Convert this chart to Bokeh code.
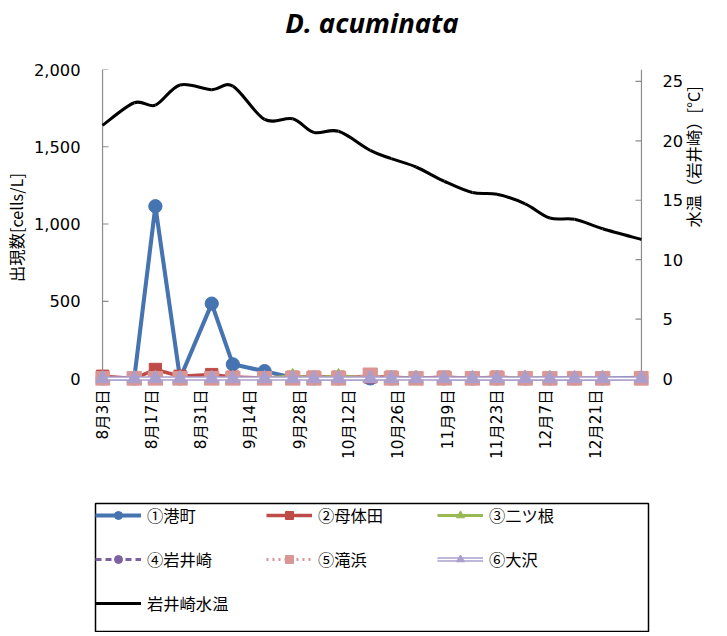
import math
import numpy as np
import pandas as pd
from bokeh.plotting import figure
from bokeh.layouts import column
from bokeh.models import (Range1d, LinearAxis, FixedTicker, NumeralTickFormatter,
                          Legend, LegendItem)
from bokeh.embed import file_html
from bokeh.resources import INLINE

# ---------------- data ----------------
title_text = "D. acuminata"
sample_dates = ["2015-08-03", "2015-08-12", "2015-08-18", "2015-08-25", "2015-09-03",
                "2015-09-09", "2015-09-18", "2015-09-26", "2015-10-02", "2015-10-09",
                "2015-10-18", "2015-10-24", "2015-10-31", "2015-11-08", "2015-11-16",
                "2015-11-23", "2015-12-01", "2015-12-08", "2015-12-15", "2015-12-23",
                "2016-01-03"]
station_names = ["①港町", "②母体田", "③二ツ根", "④岩井崎", "⑤滝浜", "⑥大沢"]
minatomachi = [0, 0, 1115, 0, 485, 92, 48, 5, 0, 0, 0, 0, 5, 0, 0, 0, 0, 0, 0, 0, 5]
motaita = [15, 0, 59, 15, 26, 9, 4, 9, 9, 9, 10, 9, 0, 9, 0, 9, 0, 0, 0, 0, 0]
futatsune = [0, 0, 0, 0, 0, 0, 0, 20, 0, 20, 0, 0, 0, 0, 0, 0, 10, 0, 0, 0, 0]
iwaisaki = [0, 0, 0, 0, 0, 0, 0, 0, 0, 0, 0, 0, 0, 0, 5, 0, 0, 0, 0, 0, 0]
takihama = [0, 0, 0, 0, 0, 0, 0, 0, 0, 0, 22, 0, 0, 0, 0, 0, 0, 0, 0, 0, 0]
osawa = [0, 0, 0, 0, 0, 0, 0, 0, 0, 0, 0, 0, 0, 0, 0, 0, 0, 0, 0, 0, 0]
temp_name = "岩井崎水温"
water_temp = [21.3, 23.2, 23.0, 24.7, 24.3, 24.6, 21.8, 21.85, 20.7, 20.8, 19.2,
              18.5, 17.8, 16.6, 15.65, 15.5, 14.7, 13.5, 13.4, 12.6, 11.7]
tick_dates = ["2015-08-03", "2015-08-17", "2015-08-31", "2015-09-14", "2015-09-28",
              "2015-10-12", "2015-10-26", "2015-11-09", "2015-11-23", "2015-12-07",
              "2015-12-21"]
tick_labels = ["8月3日", "8月17日", "8月31日", "9月14日", "9月28日", "10月12日",
               "10月26日", "11月9日", "11月23日", "12月7日", "12月21日"]
left_ticks = [0, 500, 1000, 1500, 2000]
right_ticks = [0, 5, 10, 15, 20, 25]
right_max = 26
left_label = "出現数[cells/L]"
right_label = "水温（岩井崎）[°C]"

# ---------------- derived ----------------
d0 = pd.Timestamp(sample_dates[0])
days = [(pd.Timestamp(d) - d0).days for d in sample_dates]
tick_days = [(pd.Timestamp(d) - d0).days for d in tick_dates]

S = 1.02  # size factor
def px(v):
    return "%.1fpx" % (v * S)

JP = "Noto Sans CJK JP"
NUM = "DejaVu Sans"
MIX = "'DejaVu Sans', 'Noto Sans CJK JP'"
AX = "#8c8c8c"
BLUE = "#4674b0"
RED = "#be4b48"
GREEN = "#98b954"
PURPLE = "#7d60a0"
PINK = "#d99694"
LAV = "#aa9fcc"

W = 724
H_MAIN = 502
H_LEG = 130
MB_L, MB_R, MB_T = 88, 69, 66
MB_B = H_MAIN - 385
XPAD = 2
YPAD = 45
x_start, x_end = days[0] - XPAD, days[-1] + XPAD
y_start, y_end = left_ticks[0] - YPAD, left_ticks[-1]
r_start = y_start / left_ticks[-1] * right_max

p = figure(width=W, height=H_MAIN, x_range=Range1d(x_start, x_end), y_range=Range1d(y_start, y_end),
           output_backend="svg", toolbar_location=None,
           min_border_left=MB_L, min_border_right=MB_R, min_border_top=MB_T, min_border_bottom=MB_B,
           x_axis_location=None, y_axis_location=None)
p.extra_y_ranges = {"temp": Range1d(r_start, right_max)}
p.xgrid.visible = False
p.ygrid.visible = False
p.outline_line_color = None

def style_axis(ax, font=NUM, size=16):
    ax.axis_line_color = None
    ax.major_tick_line_color = None
    ax.minor_tick_line_color = None
    ax.major_tick_in = 0
    ax.major_tick_out = 0
    ax.major_label_text_font = font
    ax.major_label_text_font_size = px(size)
    ax.major_label_text_color = "black"
    ax.axis_label_text_font = JP
    ax.axis_label_text_font_size = px(16)
    ax.axis_label_text_font_style = "normal"
    ax.axis_label_text_color = "black"

# title as the label of an empty top axis
tax = LinearAxis(ticker=FixedTicker(ticks=[]), axis_label=title_text)
style_axis(tax)
tax.major_label_standoff = 0
tax.axis_label_text_font = "Open Sans"
tax.axis_label_text_font_style = "bold italic"
tax.axis_label_text_font_size = px(27)
tax.axis_label_standoff = 29
p.add_layout(tax, "above")

xaxis = LinearAxis(ticker=FixedTicker(ticks=tick_days))
xaxis.major_label_overrides = {t: l for t, l in zip(tick_days, tick_labels)}
style_axis(xaxis, MIX, 15)
xaxis.major_label_orientation = math.pi / 2
xaxis.major_label_standoff = 4
p.add_layout(xaxis, "below")

yaxis = LinearAxis(ticker=FixedTicker(ticks=left_ticks), formatter=NumeralTickFormatter(format="0,0"),
                   axis_label=left_label)
style_axis(yaxis)
yaxis.major_label_standoff = 15
yaxis.axis_label_standoff = 3
p.add_layout(yaxis, "left")

raxis = LinearAxis(y_range_name="temp", ticker=FixedTicker(ticks=right_ticks), axis_label=right_label)
style_axis(raxis)
raxis.major_label_standoff = 14
raxis.axis_label_standoff = 7
if "axis_label_orientation" in raxis.properties():
    raxis.axis_label_orientation = math.pi / 2
p.add_layout(raxis, "right")

# axis lines and inside ticks drawn at the data origin / end
frame_w = W - MB_L - MB_R
tick_len = 6 * S * (x_end - x_start) / frame_w
p.segment(x0=[days[0]], y0=[left_ticks[0]], x1=[days[0]], y1=[y_end], line_color=AX, line_width=1.2)
p.segment(x0=[days[0]] * len(left_ticks), y0=left_ticks,
          x1=[days[0] + tick_len] * len(left_ticks), y1=left_ticks, line_color=AX, line_width=1.2)
p.segment(x0=[days[-1]], y0=[0], x1=[days[-1]], y1=[right_max], y_range_name="temp",
          line_color=AX, line_width=1.2)
p.segment(x0=[days[-1] - tick_len] * len(right_ticks), y0=right_ticks,
          x1=[days[-1]] * len(right_ticks), y1=right_ticks, y_range_name="temp",
          line_color=AX, line_width=1.2)
p.segment(x0=[days[0]], y0=[0], x1=[days[-1]], y1=[0], line_color=AX, line_width=1.2)

# ---------------- series ----------------
STY = [
    dict(color=BLUE, lw=4, dash="solid", marker="circle", size=13),
    dict(color=RED, lw=3.5, dash="solid", marker="square", size=12),
    dict(color=GREEN, lw=3, dash="solid", marker="triangle", size=12),
    dict(color=PURPLE, lw=3, dash="6 4", marker="circle", size=11),
    dict(color=PINK, lw=3, dash="2 4", marker="square", size=14),
    dict(color=LAV, lw=4.5, dash="solid", marker="triangle", size=14),
]
series = [minatomachi, motaita, futatsune, iwaisaki, takihama, osawa]

def draw_series(fig, vals, s):
    rs = [fig.line(days, vals, line_color=s["color"], line_width=s["lw"] * S, line_dash=s["dash"])]
    if s["color"] == LAV:
        rs.append(fig.line(days, vals, line_color="white", line_width=1.6 * S))
    rs.append(fig.scatter(days, vals, marker=s["marker"], size=s["size"] * S,
                          fill_color=s["color"], line_color=s["color"]))
    return rs

for vals, s in zip(series, STY):
    draw_series(p, vals, s)

# smoothed temperature line (Catmull-Rom bezier through the data points)
t = np.array(days, dtype=float)
v = np.array(water_temp, dtype=float)
n = len(t)
tp = np.concatenate([[t[0]], t, [t[-1]]])
vp = np.concatenate([[v[0]], v, [v[-1]]])
cx0 = tp[1:n] + (tp[2:n + 1] - tp[0:n - 1]) / 6
cy0 = vp[1:n] + (vp[2:n + 1] - vp[0:n - 1]) / 6
cx1 = tp[2:n + 1] - (tp[3:n + 2] - tp[1:n]) / 6
cy1 = vp[2:n + 1] - (vp[3:n + 2] - vp[1:n]) / 6
p.bezier(x0=t[:-1], y0=v[:-1], x1=t[1:], y1=v[1:], cx0=cx0, cy0=cy0, cx1=cx1, cy1=cy1,
         y_range_name="temp", line_color="black", line_width=3 * S)

# ---------------- legend (own panel, framed) ----------------
# the legend panel's ranges lie outside the data, so its renderers only feed the legend
lg = figure(width=W, height=H_LEG, output_backend="svg", toolbar_location=None,
            x_range=Range1d(-1000, -999), y_range=Range1d(-1000, -999),
            min_border_left=84, min_border_right=W - 648, min_border_top=1, min_border_bottom=0,
            x_axis_location=None, y_axis_location=None)
lg.xgrid.visible = False
lg.ygrid.visible = False
lg.outline_line_color = "black"
lg.outline_line_width = 1.5

items = []
for name, vals, s in zip(station_names, series, STY):
    items.append(LegendItem(label=name, renderers=draw_series(lg, vals, s)))
items.append(LegendItem(label=temp_name,
                        renderers=[lg.line(days, water_temp, line_color="black", line_width=3 * S)]))

legend = Legend(items=items, orientation="horizontal", ncols=3, location="top_left",
                glyph_width=46, glyph_height=20, label_width=99, label_height=20,
                label_standoff=6, spacing=20, padding=13, margin=0,
                border_line_color=None, background_fill_alpha=0,
                label_text_font=JP, label_text_font_size=px(16), label_text_color="black")
lg.add_layout(legend, "center")

layout = column(p, lg, spacing=0)
open("out.html", "w").write(file_html(layout, INLINE))
